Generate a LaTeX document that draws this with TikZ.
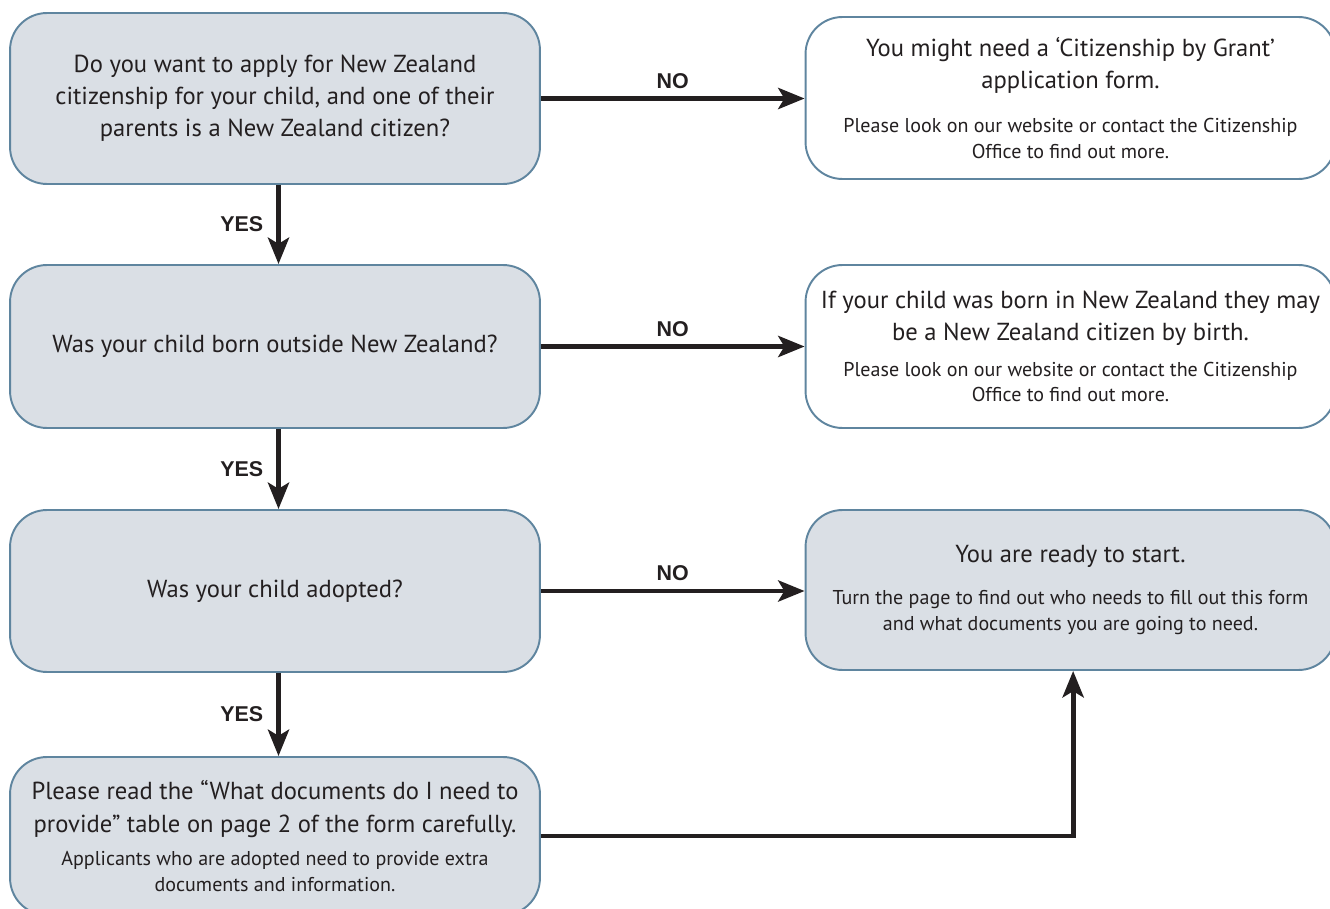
\documentclass[tikz,border=0pt]{standalone}
\usepackage{fontspec}
\setmainfont{PT Sans}
\newfontfamily\lblfont{Liberation Sans}
\usetikzlibrary{arrows.meta,positioning}

\definecolor{boxfill}{HTML}{DADFE5}
\definecolor{boxline}{HTML}{5F859F}
\definecolor{inkgrey}{HTML}{231F20}

\newcommand{\bigtxt}{\fontsize{14}{18.3}\selectfont}
\newcommand{\smalltxt}{\fontsize{11.4}{14.7}\selectfont}

\tikzset{
  qbox/.style={draw=boxline, line width=1.1pt, rounded corners=21pt, fill=boxfill,
    minimum width=10.6cm, align=center, text=inkgrey, inner sep=0pt, font=\bigtxt},
  infobox/.style={qbox, fill=white},
  flow/.style={line width=2.8pt, draw=inkgrey,
    -{Stealth[length=15pt, width=12pt, inset=3.5pt]}},
  answer/.style={font=\lblfont\bfseries\fontsize{12.2}{14}\selectfont, text=inkgrey}
}

\begin{document}
\begin{tikzpicture}[x=0.02cm, y=-0.02cm]
				\useasboundingbox (0,0) rectangle (1330,909);
				
				\node[qbox, minimum height=3.42cm] (q1) at (275,98.5)
				{Do you want to apply for New Zealand\\ citizenship for your child, and one of their\\ parents is a New Zealand citizen?};
				\node[qbox, minimum height=3.26cm] (q2) at (275,346.5)
				{Was your child born outside New Zealand?};
				\node[qbox, minimum height=3.24cm] (q3) at (275,591)
				{Was your child adopted?};
				\node[qbox, minimum height=3.16cm] (q4) at (275,836)
				{Please read the “What documents do I need to\\ provide” table on page 2 of the form carefully.\\[0.6pt]
				 \smalltxt Applicants who are adopted need to provide extra\\[-3.6pt] \smalltxt documents and information.};
				
				\node[infobox, minimum height=3.24cm] (r1) at (1070.5,98)
				{You might need a ‘Citizenship by Grant’\\ application form.\\[7pt]
				 \smalltxt Please look on our website or contact the Citizenship\\[-3.6pt] \smalltxt Office to find out more.};
				\node[infobox, minimum height=3.26cm] (r2) at (1070.5,346.5)
				{If your child was born in New Zealand they may\\ be a New Zealand citizen by birth.\\[2pt]
				 \smalltxt Please look on our website or contact the Citizenship\\[-3.6pt] \smalltxt Office to find out more.};
				\node[qbox, minimum height=3.2cm] (r3) at (1070.5,590)
				{You are ready to start.\\[5.5pt]
				 \smalltxt Turn the page to find out who needs to fill out this form\\[-3.6pt] \smalltxt and what documents you are going to need.};
				
				\draw[flow] (q1.east) -- node[answer, above=1pt] {NO} (r1.west |- q1.east);
				\draw[flow] (q2.east) -- node[answer, above=1pt] {NO} (r2.west |- q2.east);
				\draw[flow] (q3.east) -- node[answer, above=1pt] {NO} (r3.west |- q3.east);
				
				\draw[flow] ([xshift=2]q1.south) -- node[answer, left=4pt] {YES} ([xshift=2]q2.north);
				\draw[flow] ([xshift=2]q2.south) -- node[answer, left=4pt] {YES} ([xshift=2]q3.north);
				\draw[flow] ([xshift=2]q3.south) -- node[answer, left=4pt] {YES} ([xshift=2]q4.north);
				
				\draw[flow] (q4.east) -| ([xshift=1.5]r3.south);
			\end{tikzpicture}
\end{document}
